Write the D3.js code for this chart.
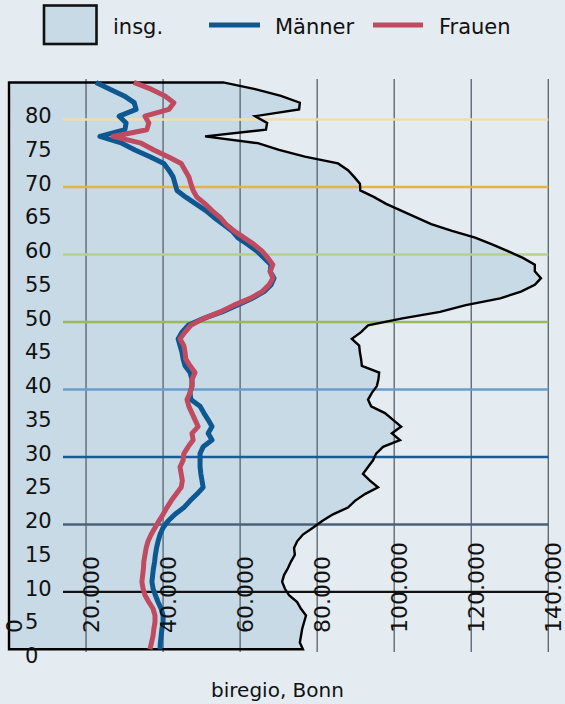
<!DOCTYPE html>
<html><head><meta charset="utf-8">
<script src="https://cdn.jsdelivr.net/npm/d3@7/dist/d3.min.js"></script>
<style>
body{margin:0;background:#e4ecf2;}
svg{display:block;font-family:"DejaVu Sans",sans-serif;}
</style>
</head><body>
<svg id="c" width="565" height="704"></svg>
<script>
// ---- data (ages 1..85) ----
const ages = d3.range(1, 86);
const insg = [76300,75500,75800,76100,76600,77100,75800,74800,72700,71600,
  70900,71400,72400,73200,74200,74000,74800,76300,78900,81300,
  84100,88000,89800,92400,95800,93700,91900,93200,94500,95300,
  97100,101500,99400,101800,99700,97600,94000,93200,94200,95500,
  95900,96100,91600,91400,91100,90900,89000,91400,93200,101800,
  111900,118600,127500,132900,136500,138100,136500,136500,133400,129500,
  125400,121000,115000,109600,105700,101800,97900,94800,91200,91100,
  89600,88000,85400,76800,70100,64600,50900,66700,67000,63900,
  75300,75500,70600,63900,55600];
const maenner = [39200,39300,39500,39700,40000,40000,39500,38700,38000,37400,
  37100,37300,37500,37800,38000,38300,38700,39200,40000,41300,
  43100,45400,47000,48800,50400,50100,49800,49600,49600,49600,
  50400,52700,51700,52700,51700,50600,49600,47200,47000,47500,
  47500,47000,45700,45200,44900,44400,43900,44900,46500,50400,
  55300,59200,63100,66200,68000,68800,67800,68000,66200,64400,
  62000,59400,57900,55600,53200,51100,48500,45900,43600,43100,
  42600,41500,40200,36600,32700,29300,23600,30100,30400,28600,
  33000,32500,29900,26200,22600];
const frauen = [36600,37000,37400,37600,37900,37900,37400,36300,35300,34800,
  34500,34700,34900,35000,35300,35600,36100,36900,37900,38900,
  40000,41000,42100,43400,44700,45000,44700,44400,45200,45400,
  46500,47800,47500,49100,48300,47500,46700,46200,47000,47500,
  47500,48300,47000,45900,45700,45400,44400,45700,47200,50400,
  54800,58400,62600,65700,67500,68500,67800,68500,67200,65700,
  63600,61000,58400,56300,54800,52700,50900,48800,47800,47200,
  46700,45700,44700,41300,37600,34300,27000,35800,36300,35300,
  41500,42800,40500,36900,32400];
const xTicks = [0,20000,40000,60000,80000,100000,120000,140000];
const yTicks = d3.range(0, 85, 5);
const refAges = [80,70,60,50,40,30,20,10];
const refColors = ["#f2dcae","#e3b24d","#b7cf8f","#99b95b","#6b9dcb","#1b5b95","#4b6279","#111111"];
const legendLabels = ["insg.","Männer","Frauen"];
const seriesColors = {insg:"#c8dae6", maenner:"#0e5891", frauen:"#c04a5f"};
const sourceText = "biregio, Bonn";

// ---- scales ----
const x = d3.scaleLinear().domain([0,140000]).range([9, 548.3]);
const y = d3.scaleLinear().domain([0,85]).range([659.4, 659.4-85*6.748]);
const svg = d3.select("#c");
const fmt = d3.format(",");
const de = v => fmt(v).replace(/,/g, ".");

// area (insg.)
const area = d3.area().x0(x(0)).x1(d => x(d.v)).y(d => y(d.a + 0.5));
const insgData = ages.map((a,i) => ({a, v: insg[i]}));
svg.append("path").datum(insgData).attr("d", area)
  .attr("fill", seriesColors.insg).attr("stroke","none");

// vertical grid lines
svg.append("g").selectAll("line").data(xTicks.slice(1)).join("line")
  .attr("x1", d => x(d)).attr("x2", d => x(d))
  .attr("y1", 79).attr("y2", 652)
  .attr("stroke", "#5f6a74").attr("stroke-width", 1.4);

// reference age lines
svg.append("g").selectAll("line").data(refAges).join("line")
  .attr("x1", 63).attr("x2", x(140000))
  .attr("y1", d => y(d)).attr("y2", d => y(d))
  .attr("stroke", (d,i) => refColors[i]).attr("stroke-width", (d,i)=> i===7 ? 2.2 : 2.6);

// area outline
svg.append("path").datum(insgData).attr("d", area)
  .attr("fill", "none").attr("stroke", "#000").attr("stroke-width", 2.4)
  .attr("stroke-linejoin","miter");

// lines
const line = d3.line().x(d => x(d.v)).y(d => y(d.a + 0.5));
svg.append("path").datum(ages.map((a,i)=>({a, v: maenner[i]}))).attr("d", line)
  .attr("fill","none").attr("stroke", seriesColors.maenner).attr("stroke-width", 5)
  .attr("stroke-linejoin","round");
svg.append("path").datum(ages.map((a,i)=>({a, v: frauen[i]}))).attr("d", line)
  .attr("fill","none").attr("stroke", seriesColors.frauen).attr("stroke-width", 5)
  .attr("stroke-linejoin","round");

// y labels
svg.append("g").selectAll("text").data(yTicks).join("text")
  .attr("x", 25).attr("y", d => y(d) + 3.6)
  .attr("font-size", 21).attr("fill", "#111")
  .text(d => d);

// x labels (rotated)
svg.append("g").selectAll("text").data(xTicks).join("text")
  .attr("transform", d => `translate(${x(d)+13},633) rotate(-90)`)
  .attr("font-size", 22).attr("fill", "#111")
  .text(d => de(d));

// legend
const lg = svg.append("g");
lg.append("rect").attr("x", 44).attr("y", 5.5).attr("width", 52.5).attr("height", 38.5)
  .attr("fill", seriesColors.insg).attr("stroke", "#111").attr("stroke-width", 2.6);
lg.append("text").attr("x", 113).attr("y", 34).attr("font-size", 21).attr("fill","#111").text(legendLabels[0]);
lg.append("line").attr("x1", 209).attr("x2", 260).attr("y1", 25).attr("y2", 25)
  .attr("stroke", seriesColors.maenner).attr("stroke-width", 5);
lg.append("text").attr("x", 275).attr("y", 34).attr("font-size", 21).attr("fill","#111").text(legendLabels[1]);
lg.append("line").attr("x1", 373).attr("x2", 423).attr("y1", 25).attr("y2", 25)
  .attr("stroke", seriesColors.frauen).attr("stroke-width", 5);
lg.append("text").attr("x", 439).attr("y", 34).attr("font-size", 21).attr("fill","#111").text(legendLabels[2]);

// source
svg.append("text").attr("x", 277.5).attr("y", 697).attr("text-anchor","middle")
  .attr("font-size", 20).attr("fill","#111").text(sourceText);
</script>
</body></html>
